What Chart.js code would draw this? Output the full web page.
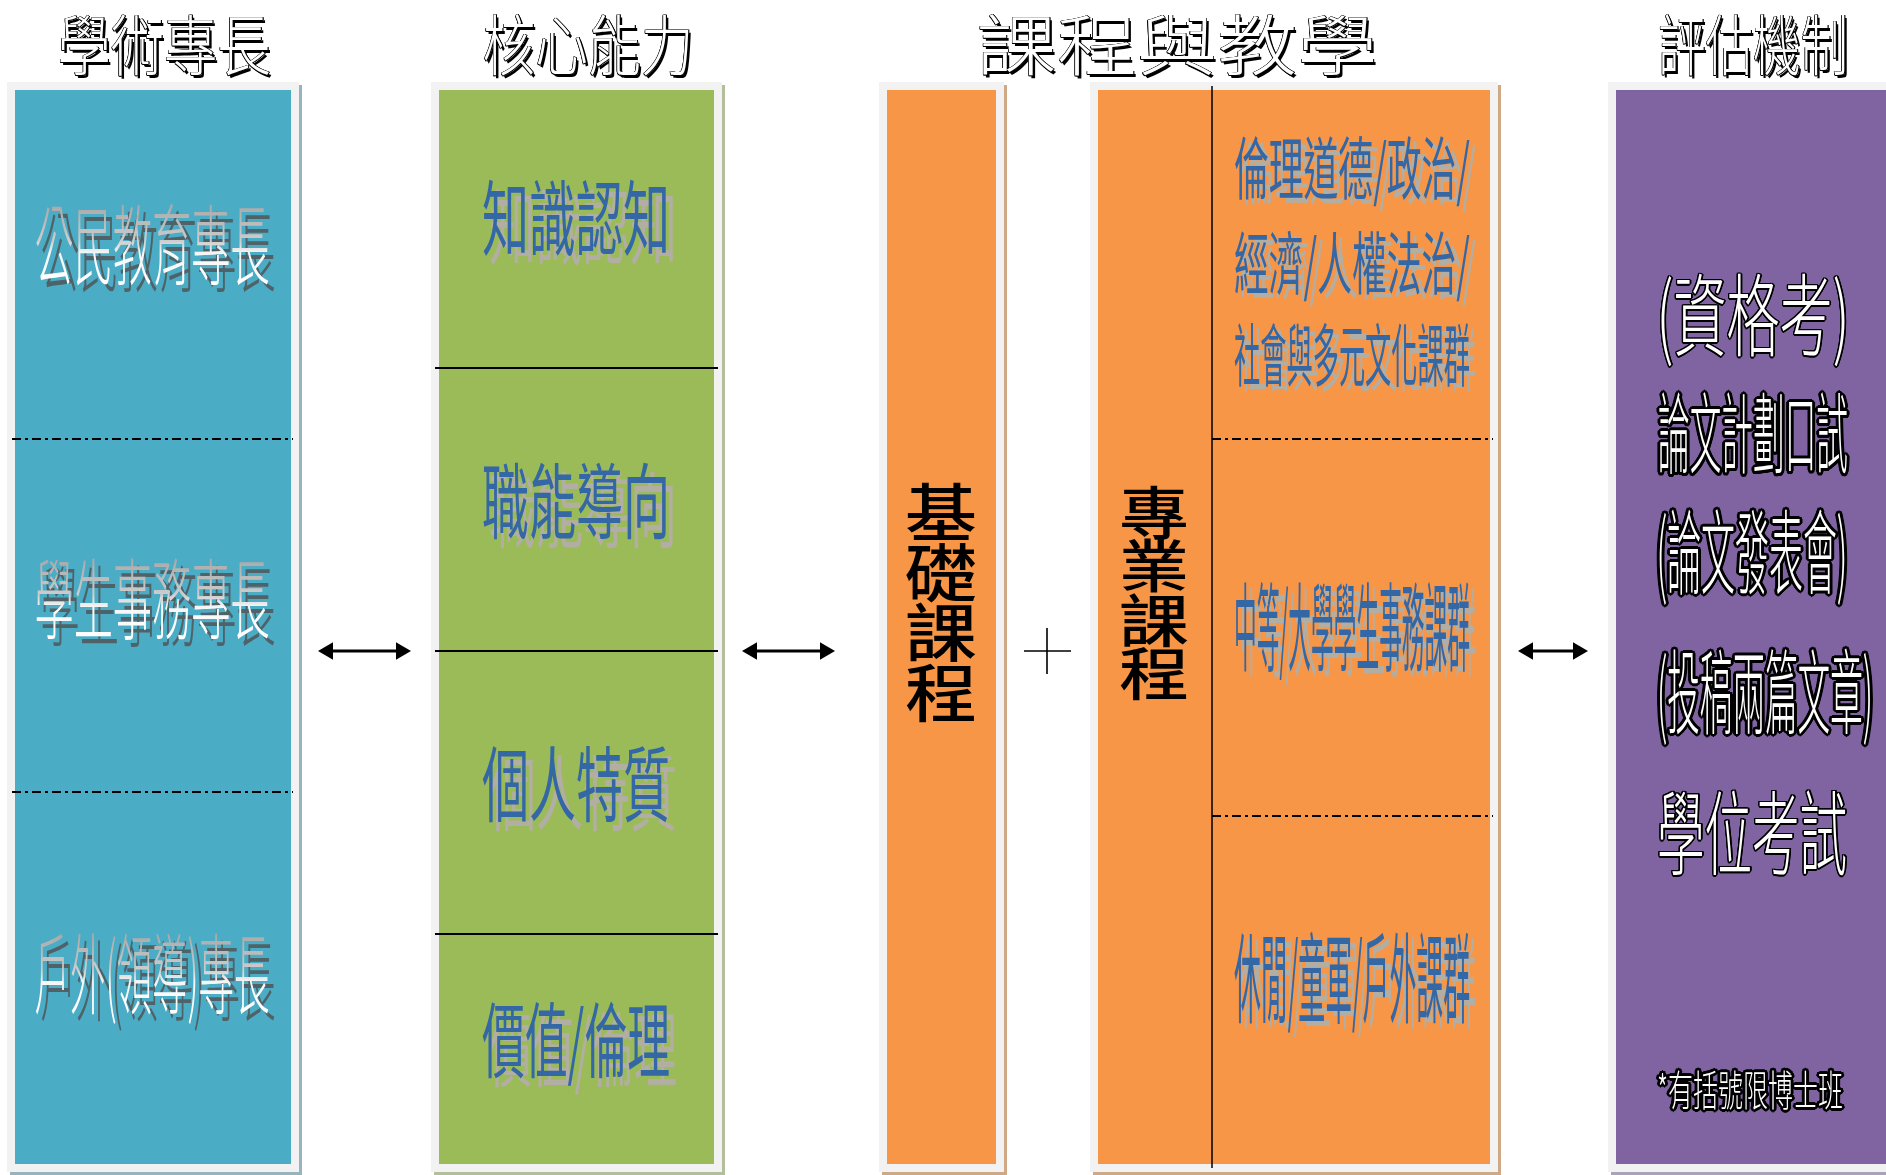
<!DOCTYPE html>
<html>
<head>
<meta charset="utf-8">
<script src="https://cdn.jsdelivr.net/npm/chart.js@4.4.0/dist/chart.umd.min.js"></script>
<style>
  html, body { margin: 0; padding: 0; background: #fff; overflow: hidden; }
</style>
</head>
<body>
<canvas id="chart" width="1886" height="1175"></canvas>
<script>
// ---- texts ----
const headings = ['學術專長', '核心能力', '課程與教學', '評估機制'];
const specialties = ['公民教育專長', '學生事務專長', '戶外(領導)專長'];
const competencies = ['知識認知', '職能導向', '個人特質', '價值/倫理'];
const basicCourse = '基礎課程';
const majorCourse = '專業課程';
const courseGroups = ['倫理道德/政治/', '經濟/人權法治/', '社會與多元文化課群', '中等/大學學生事務課群', '休閒/童軍/戶外課群'];
const assessments = ['(資格考)', '論文計劃口試', '(論文發表會)', '(投稿兩篇文章)', '學位考試', '*有括號限博士班'];

// ---- panels, on the hidden x / y axes of the diagram ----
const colLeft   = [15, 439, 887, 1098, 1616];
const colRight  = [291, 714, 996, 1490, 1895];
const colTop    = [90, 90, 90, 90, 90];
const colBottom = [1164, 1164, 1164, 1164, 1164];
const specialtySplits = [439, 792];      // dash-dot lines
const competencySplits = [368, 651, 934]; // solid lines
const courseSplits = [439, 816];         // dash-dot lines in 專業課程
const courseDivider = 1212;
const arrowFrom = [328, 752, 1528];
const arrowTo   = [401, 825, 1578];
const arrowY = 651;

const fillColors   = ['#4bacc6', '#9bbb59', '#f79646', '#f79646', '#8064a2'];
const shadowColors = ['#97b3bb', '#b3bf9b', '#cfa886', '#cfa886', '#aaa3b8'];
const FRAME = 8;

function rect(x0, x1, y0, y1, color, order) {
  return {
    data: [{ x: x0, y: y0 }, { x: x1, y: y0 }],
    showLine: true,
    fill: { value: y1 },
    backgroundColor: color,
    borderColor: 'rgba(0,0,0,0)',
    borderWidth: 1,
    pointRadius: 0,
    order: order
  };
}
function line(pts, width, dash, order) {
  return {
    data: pts,
    showLine: true,
    fill: false,
    borderColor: '#000',
    borderWidth: width,
    borderDash: dash || [],
    pointRadius: 0,
    order: order
  };
}

const datasets = [];
colLeft.forEach((l, i) => {
  const r = colRight[i], t = colTop[i], b = colBottom[i];
  datasets.push(rect(l - FRAME + 3, r + FRAME + 3, t - FRAME + 3, b + FRAME + 3, shadowColors[i], 40));
  datasets.push(rect(l - FRAME, r + FRAME, t - FRAME, b + FRAME, '#f2f2f2', 30));
  datasets.push(rect(l, r, t, b, fillColors[i], 20));
});
specialtySplits.forEach(v => datasets.push(line([{ x: 12, y: v }, { x: 293, y: v }], 2, [9, 4, 3, 4], 10)));
competencySplits.forEach(v => datasets.push(line([{ x: 435, y: v }, { x: 718, y: v }], 2, null, 10)));
courseSplits.forEach(v => datasets.push(line([{ x: courseDivider, y: v }, { x: 1493, y: v }], 2, [9, 4, 3, 4], 10)));
datasets.push(line([{ x: courseDivider, y: 86 }, { x: courseDivider, y: 1168 }], 1.5, null, 10));
// plus sign between the two course panels
datasets.push(line([{ x: 1024, y: arrowY }, { x: 1071, y: arrowY }], 1.6, null, 10));
datasets.push(line([{ x: 1047, y: 628 }, { x: 1047, y: 674 }], 1.6, null, 10));
arrowFrom.forEach((a, i) => {
  datasets.push({
    data: [{ x: a, y: arrowY }, { x: arrowTo[i], y: arrowY }],
    showLine: true,
    fill: false,
    borderColor: '#000',
    borderWidth: 3,
    pointStyle: 'triangle',
    pointRadius: 10,
    pointRotation: [-90, 90],
    pointBackgroundColor: '#000',
    pointBorderWidth: 0,
    order: 5
  });
});

// ---- text drawing ----
const FONT = '"Noto Sans CJK TC", "Noto Sans CJK SC", sans-serif';

function fitted(ctx, text, cx, cy, size, width, weight, paint) {
  ctx.save();
  ctx.font = weight + ' ' + size + 'px ' + FONT;
  const sx = width / ctx.measureText(text).width;
  ctx.translate(cx, cy);
  ctx.scale(sx, 1);
  ctx.textAlign = 'center';
  ctx.textBaseline = 'middle';
  paint(ctx, text, sx, size);
  ctx.restore();
}

// black outline of even width, built from offset copies
function ring(ctx, t, sx, r, color) {
  ctx.fillStyle = color;
  for (let dx = -r; dx <= r; dx += 0.75) {
    for (let dy = -r; dy <= r; dy += 0.75) {
      if (dx * dx + dy * dy <= r * r) ctx.fillText(t, dx / sx, dy);
    }
  }
}

const paintHead = (ctx, t, sx) => {
  ctx.fillStyle = '#000';
  ctx.fillText(t, 2.5 / sx, 2.5);
  ring(ctx, t, sx, 1.3, '#000');
  ctx.fillStyle = '#fff';
  ctx.fillText(t, 0, 0);
};
const paintSpecialty = (ctx, t, sx, size) => {
  ctx.fillStyle = '#4f6268';
  ctx.fillText(t, 6 / sx, 7);
  const g = ctx.createLinearGradient(0, -size * 0.45, 0, size * 0.45);
  g.addColorStop(0, '#a9a9a9');
  g.addColorStop(0.45, '#cdcdcd');
  g.addColorStop(0.6, '#f6f6f6');
  g.addColorStop(1, '#ffffff');
  ctx.fillStyle = g;
  ctx.fillText(t, 0, 0);
};
const paintBlue = (dx, dy) => (ctx, t, sx) => {
  ctx.fillStyle = '#b3aea3';
  ctx.fillText(t, dx / sx, dy);
  ctx.fillStyle = '#3467a6';
  ctx.fillText(t, 0, 0);
};
const paintOutline = (r) => (ctx, t, sx) => {
  ring(ctx, t, sx, r, '#000');
  ctx.fillStyle = '#fff';
  ctx.fillText(t, 0, 0);
};
const paintBlack = (ctx, t) => {
  ctx.fillStyle = '#000';
  ctx.fillText(t, 0, 0);
};

const headX = [164, 588, 1177, 1753], headW = [213, 211, 401, 190];
const specialtyY = [245, 599, 974];
const competencyY = [218, 501, 784, 1040];
const groupY = [168, 263, 355, 627, 978], groupSize = [68, 68, 68, 96, 98];
const basicY = [512, 572, 632, 692], majorY = [512, 565, 620, 673];
const assessX = [1753, 1753, 1752, 1765, 1752, 1750];
const assessY = [315, 433, 552, 692, 833, 1090];
const assessW = [193, 190, 191, 216, 190, 186];
const assessSize = [90, 88, 92, 92, 92, 42];
const assessRing = [2, 3, 3, 3, 2, 3];

const textPlugin = {
  id: 'diagramText',
  afterDatasetsDraw(chart) {
    const { ctx, scales: { x, y } } = chart;
    const px = v => x.getPixelForValue(v), py = v => y.getPixelForValue(v);

    headings.forEach((t, i) => fitted(ctx, t, px(headX[i]), py(45), 66, headW[i], 300, paintHead));
    specialties.forEach((t, i) => fitted(ctx, t, px(152), py(specialtyY[i]), 88, 235, 300, paintSpecialty));
    competencies.forEach((t, i) => fitted(ctx, t, px(576), py(competencyY[i]), 82, 188, 400, paintBlue(7, 9)));
    courseGroups.forEach((t, i) => fitted(ctx, t, px(1352), py(groupY[i]), groupSize[i], 236, 400, paintBlue(6, 5)));
    [...basicCourse].forEach((c, i) => fitted(ctx, c, px(941), py(basicY[i]), 63, 72, 500, paintBlack));
    [...majorCourse].forEach((c, i) => fitted(ctx, c, px(1154), py(majorY[i]), 57, 70, 500, paintBlack));
    assessments.forEach((t, i) => fitted(ctx, t, px(assessX[i]), py(assessY[i]), assessSize[i], assessW[i], 300,
      paintOutline(assessRing[i])));
  }
};

new Chart(document.getElementById('chart'), {
  type: 'scatter',
  data: { datasets: datasets },
  options: {
    responsive: false,
    animation: false,
    events: [],
    layout: { padding: 0, autoPadding: false },
    plugins: { legend: { display: false }, tooltip: { enabled: false } },
    scales: {
      x: { type: 'linear', min: 0, max: 1886, display: false },
      y: { type: 'linear', min: 0, max: 1175, reverse: true, display: false }
    }
  },
  plugins: [textPlugin]
});
</script>
</body>
</html>
